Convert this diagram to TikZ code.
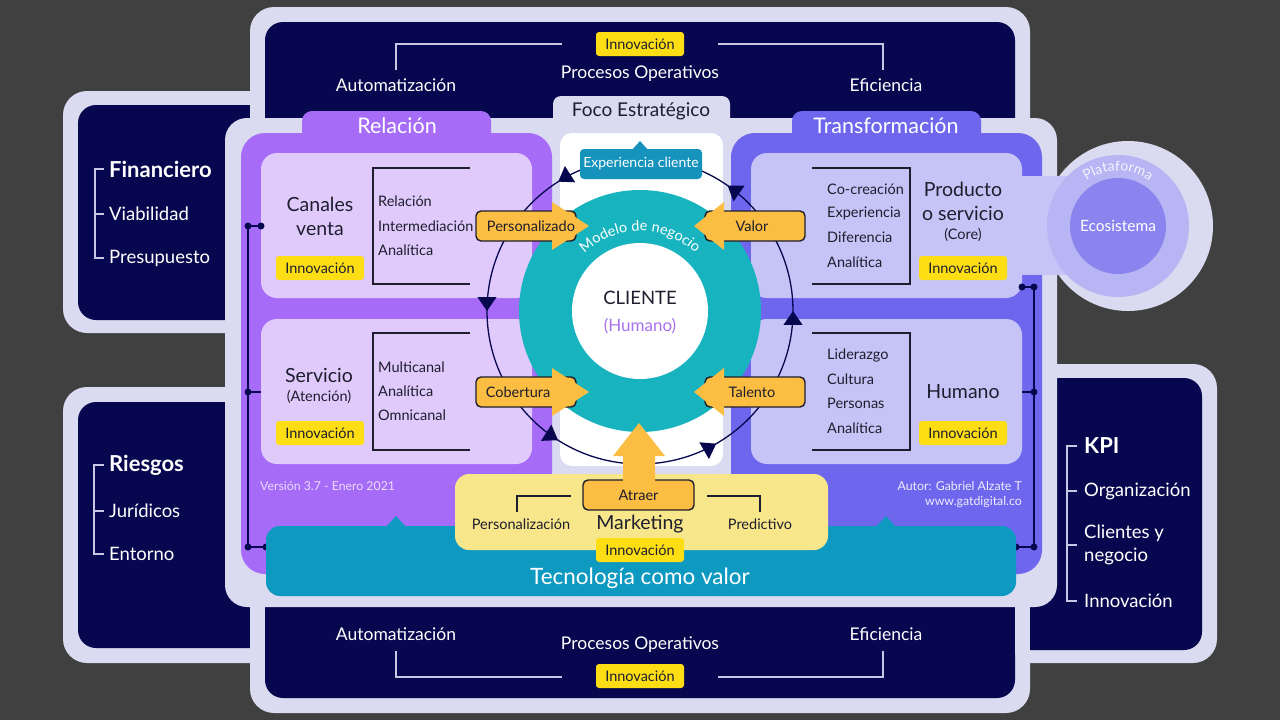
\documentclass[tikz,border=0pt]{standalone}
\usepackage{fontspec}
\setmainfont{Lato}
\usetikzlibrary{arrows.meta,decorations.markings,decorations.text}

\definecolor{bggray}{HTML}{404040}
\definecolor{frame}{HTML}{DADAF0}
\definecolor{navy}{HTML}{07074F}
\definecolor{relpurple}{HTML}{A66CF8}
\definecolor{relbox}{HTML}{DFCAFB}
\definecolor{trfblue}{HTML}{6E67EE}
\definecolor{trfbox}{HTML}{C6C4F7}
\definecolor{teal}{HTML}{17B3BE}
\definecolor{techblue}{HTML}{0E99C1}
\definecolor{mktyellow}{HTML}{F8E68A}
\definecolor{innovyellow}{HTML}{FDDD14}
\definecolor{arrorange}{HTML}{FBBD42}
\definecolor{expblue}{HTML}{1593BC}
\definecolor{textdark}{HTML}{1E1E2E}
\definecolor{humpurple}{HTML}{A872EC}
\definecolor{framelight}{HTML}{C8C8E6}
\definecolor{platring}{HTML}{B8B5F5}
\definecolor{platin}{HTML}{8A85EE}
\definecolor{verlight}{HTML}{EADCFF}

\newcommand{\fsz}[1]{\fontsize{#1}{#1}\selectfont}

\tikzset{
  innov/.style={fill=innovyellow, rounded corners=3pt, text=textdark, font=\fsz{14.5}, minimum width=88pt, minimum height=24pt, inner sep=0pt},
  itemtxt/.style={anchor=west, text=textdark, font=\fsz{14.5}, inner sep=0pt},
  bigtxt/.style={text=textdark, font=\fontsize{19.5}{24}\selectfont, align=center, inner sep=0pt},
  subtxt/.style={text=textdark, font=\fsz{14.5}, inner sep=0pt},
  navytxt/.style={anchor=west, text=white, font=\fsz{18.5}, inner sep=0pt},
  navytxtc/.style={text=white, font=\fsz{17.5}, inner sep=0pt},
  navybold/.style={anchor=west, text=white, font=\bfseries\fsz{22}, inner sep=0pt},
  tabtxt/.style={text=white, font=\fsz{21.5}, inner sep=0pt},
  lblbox/.style={fill=arrorange, draw=textdark, line width=1.4pt, rounded corners=5pt, minimum height=30pt, inner sep=0pt},
  lbltxt/.style={text=textdark, font=\fsz{14.5}, inner sep=0pt},
  brk/.style={draw=textdark, line width=1.1pt},
  brklight/.style={draw=framelight, line width=1.1pt},
  punto/.style={fill=navy},
  flecha/.style={fill=arrorange},
}

\begin{document}
\begin{tikzpicture}[x=1pt,y=-1pt]
\useasboundingbox (0,0) rectangle (1280,720);
\fill[bggray] (0,0) rectangle (1280,720);

% marco claro
\fill[frame, rounded corners=24pt] (250,7) rectangle (1030,713);
\fill[frame, rounded corners=24pt] (63,91) rectangle (280,333);
\fill[frame, rounded corners=24pt] (63,387) rectangle (280,663);
\fill[frame, rounded corners=24pt] (1000,364) rectangle (1217,663);
\fill[frame] (1128,226) circle (85pt);

% cajas azul oscuro
\fill[navy, rounded corners=18pt] (265,22) rectangle (1015,160);
\fill[navy, rounded corners=18pt] (265,560) rectangle (1015,698);
\fill[navy, rounded corners=18pt] (78,105) rectangle (270,320);
\fill[navy, rounded corners=18pt] (78,402) rectangle (270,648);
\fill[navy, rounded corners=18pt] (1012,378) rectangle (1202,650);
\fill[frame, rounded corners=22pt] (225,118) rectangle (1057,607);
\fill[frame] (250,95) rectangle (265,118);
\fill[frame] (250,600) rectangle (265,655);
\fill[frame] (1015,600) rectangle (1030,655);

% paneles
\fill[relpurple, rounded corners=10pt] (302,111) rectangle (491,150);
\fill[relpurple, rounded corners=24pt] (241,133) rectangle (552,574);
\fill[trfblue, rounded corners=10pt] (792,111) rectangle (981,150);
\fill[trfblue, rounded corners=24pt] (731,133) rectangle (1042,574);
\fill[frame, rounded corners=8pt] (553,96) rectangle (730,140);
\fill[white, rounded corners=12pt] (560,133) rectangle (723,466);
\node[tabtxt] (relacion) at (397,126) {Relación};
\node[tabtxt] (transformacion) at (886,126) {Transformación};
\node[text=textdark, font=\fsz{19}, inner sep=0pt] (foco) at (641,111) {Foco Estratégico};

% cajas interiores
\fill[relbox, rounded corners=16pt] (261,153) rectangle (532,298);
\fill[relbox, rounded corners=16pt] (261,319) rectangle (532,464);
\fill[trfbox, rounded corners=16pt] (751,153) rectangle (1022,298);
\fill[trfbox, rounded corners=16pt] (751,319) rectangle (1022,464);
\fill[trfbox] (1010,176) rectangle (1070,275);

% plataforma
\fill[platring] (1118,226) circle (71pt);
\fill[platin] (1118,226) circle (48pt);
\path[decorate, decoration={text along path, text align=center, text color=white!92!trfblue, text={|\fsz{14}|Plataforma}}] (1118,226) ++(155:55pt) arc[start angle=155, end angle=25, radius=55pt];
\node[text=white, font=\fsz{15.5}, inner sep=0pt] (ecosistema) at (1118,226) {Ecosistema};

% canales venta
\node[bigtxt] (canales) at (320,216) {Canales\\venta};
\node[innov] (innovCan) at (320,268) {Innovación};
\draw[brk] (470,168) -- (373,168) -- (373,284) -- (470,284);
\node[itemtxt] (relCan) at (378,201) {Relación};
\node[itemtxt] (intCan) at (378,226) {Intermediación};
\node[itemtxt] (anaCan) at (378,250) {Analítica};

% servicio
\node[bigtxt] (servicio) at (319,375) {Servicio};
\node[subtxt] (atencion) at (319,397) {(Atención)};
\node[innov] (innovSer) at (320,433) {Innovación};
\draw[brk] (470,333) -- (373,333) -- (373,450) -- (470,450);
\node[itemtxt] (multiSer) at (378,367) {Multicanal};
\node[itemtxt] (anaSer) at (378,391) {Analítica};
\node[itemtxt] (omniSer) at (378,415) {Omnicanal};

% producto
\node[bigtxt] (producto) at (963,201) {Producto\\o servicio};
\node[subtxt] (core) at (963,235) {(Core)};
\node[innov] (innovPro) at (963,268) {Innovación};
\draw[brk] (812,168) -- (910,168) -- (910,284) -- (812,284);
\node[itemtxt] (cocPro) at (827,189) {Co-creación};
\node[itemtxt] (expPro) at (827,213) {Experiencia};
\node[itemtxt] (difPro) at (827,237) {Diferencia};
\node[itemtxt] (anaPro) at (827,262) {Analítica};

% humano
\node[bigtxt] (humano) at (963,392) {Humano};
\node[innov] (innovHum) at (963,433) {Innovación};
\draw[brk] (812,333) -- (910,333) -- (910,450) -- (812,450);
\node[itemtxt] (lidHum) at (827,355) {Liderazgo};
\node[itemtxt] (culHum) at (827,379) {Cultura};
\node[itemtxt] (perHum) at (827,403) {Personas};
\node[itemtxt] (anaHum) at (827,428) {Analítica};

% conectores con puntos
\draw[navy, line width=1.2pt] (248,226) -- (248,547) (248,226) -- (261,226) (248,392) -- (261,392) (248,547) -- (266,547);
\draw[navy, line width=1.2pt] (1034,287) -- (1034,547) (1022,287) -- (1034,287) (1022,392) -- (1034,392) (1016,547) -- (1034,547);
\foreach \p in {(248,226),(261,226),(248,392),(248,547),(266,547),(1022,287),(1034,287),(1034,392),(1016,547),(1034,547)}
  \fill[punto] \p circle (3.5pt);

\node[anchor=west, text=verlight, font=\fsz{12.3}, inner sep=0pt] (version) at (260,486) {Versión 3.7 - Enero 2021};
\node[anchor=east, text=white!88!trfblue, font=\fsz{12.3}, inner sep=0pt] (autor) at (1022,486) {Autor: Gabriel Alzate T};
\node[anchor=east, text=white!88!trfblue, font=\fsz{12.3}, inner sep=0pt] (web) at (1022,502) {www.gatdigital.co};

% tecnologia y marketing
\fill[techblue, rounded corners=14pt] (266,526) rectangle (1016,596);
\fill[techblue] (385,528) -- (396,516) -- (407,528) -- cycle;
\fill[techblue] (875,528) -- (886,516) -- (897,528) -- cycle;
\node[text=white, font=\fsz{22.5}, inner sep=0pt] (tecnologia) at (640,578) {Tecnología como valor};
\fill[mktyellow, rounded corners=14pt] (455,474) rectangle (828,550);
\node[bigtxt] (marketing) at (640,524) {Marketing};
\node[lbltxt] (personalizacion) at (521,524) {Personalización};
\node[lbltxt] (predictivo) at (760,524) {Predictivo};
\draw[brk] (517,512) -- (517,496) -- (571,496);
\draw[brk] (707,496) -- (760,496) -- (760,512);
\node[innov] (innovMkt) at (640,550) {Innovación};

% cliente
\fill[teal] (640,311) circle (121pt);
\fill[white] (640,311) circle (68pt);
\path[decorate, decoration={text along path, text align=center, text color=white, text={|\fsz{14.5}|Modelo de negocio}}] (640,311) ++(155:80pt) arc[start angle=155, end angle=25, radius=80pt];
\node[text=textdark, font=\fsz{18.5}, inner sep=0pt] (cliente) at (640,298) {CLIENTE};
\node[text=humpurple, font=\fsz{17}, inner sep=0pt] (humanoC) at (640,326) {(Humano)};

% ciclo
\draw[navy, line width=1.3pt, postaction={decorate}, decoration={markings,
  mark=at position 0.0897 with {\arrow{Triangle[width=19pt,length=14pt]}},
  mark=at position 0.25 with {\arrow{Triangle[width=19pt,length=14pt]}},
  mark=at position 0.41 with {\arrow{Triangle[width=19pt,length=14pt]}},
  mark=at position 0.583 with {\arrow{Triangle[width=19pt,length=14pt]}},
  mark=at position 0.75 with {\arrow{Triangle[width=19pt,length=14pt]}},
  mark=at position 0.903 with {\arrow{Triangle[width=19pt,length=14pt]}}}]
  (640,311) ++(90:153pt) arc[start angle=90, end angle=450, radius=153pt];

\fill[expblue] (631,151) -- (640,141) -- (649,151) -- cycle;
\node[fill=expblue, rounded corners=4pt, text=white, font=\fsz{14}, minimum width=122pt, minimum height=30pt, inner sep=0pt] (experiencia) at (641,164) {Experiencia cliente};

% flechas naranjas
\node[lblbox, minimum width=100pt] (personalizado) at (526,226) {};
\fill[flecha] (552,202) -- (589,226) -- (552,250) -- cycle;
\node[lbltxt] at (531,226) {Personalizado};
\node[lblbox, minimum width=100pt] (valor) at (755,226) {};
\fill[flecha] (724,202) -- (694,226) -- (724,250) -- cycle;
\node[lbltxt] at (752,226) {Valor};
\node[lblbox, minimum width=100pt] (cobertura) at (526,392) {};
\fill[flecha] (552,368) -- (589,392) -- (552,416) -- cycle;
\node[lbltxt] at (518,392) {Cobertura};
\node[lblbox, minimum width=100pt] (talento) at (755,392) {};
\fill[flecha] (724,368) -- (694,392) -- (724,416) -- cycle;
\node[lbltxt] at (752,392) {Talento};
\node[lblbox, minimum width=111pt] (atraer) at (638.5,495) {};
\fill[flecha] (623,483) -- (623,456) -- (613,456) -- (639,423) -- (665,456) -- (655,456) -- (655,483) -- cycle;
\node[lbltxt] at (638.5,495) {Atraer};

% procesos operativos
\node[innov] (innovTop) at (640,44) {Innovación};
\node[navytxtc] (procTop) at (640,74) {Procesos Operativos};
\node[navytxtc] (autoTop) at (396,85) {Automatización};
\node[navytxtc] (efiTop) at (886,85) {Eficiencia};
\draw[brklight] (396,70) -- (396,44) -- (562,44);
\draw[brklight] (718,44) -- (883,44) -- (883,70);
\node[innov] (innovBot) at (640,676) {Innovación};
\node[navytxtc] (procBot) at (640,645) {Procesos Operativos};
\node[navytxtc] (autoBot) at (396,634) {Automatización};
\node[navytxtc] (efiBot) at (886,634) {Eficiencia};
\draw[brklight] (396,651) -- (396,677) -- (562,677);
\draw[brklight] (718,677) -- (883,677) -- (883,651);

% financiero
\node[navybold] (financiero) at (109,169) {Financiero};
\node[navytxt] (viabilidad) at (109,214) {Viabilidad};
\node[navytxt] (presupuesto) at (109,258) {Presupuesto};
\draw[brklight] (104,169) -- (95,169) -- (95,258) -- (104,258) (95,214) -- (104,214);

% riesgos
\node[navybold] (riesgos) at (109,465) {Riesgos};
\node[navytxt] (juridicos) at (109,511) {Jurídicos};
\node[navytxt] (entorno) at (109,554) {Entorno};
\draw[brklight] (104,465) -- (94,465) -- (94,554) -- (104,554) (94,511) -- (104,511);

% kpi
\node[navybold] (kpi) at (1084,446) {KPI};
\node[navytxt] (organizacion) at (1084,491) {Organización};
\node[navytxt, align=left, font=\fontsize{18.5}{23}\selectfont] (clientes) at (1084,545) {Clientes y\\negocio};
\node[navytxt] (innovKpi) at (1084,601) {Innovación};
\draw[brklight] (1077,446) -- (1067,446) -- (1067,601) -- (1077,601) (1067,491) -- (1077,491) (1067,545) -- (1077,545);
\end{tikzpicture}
\end{document}
